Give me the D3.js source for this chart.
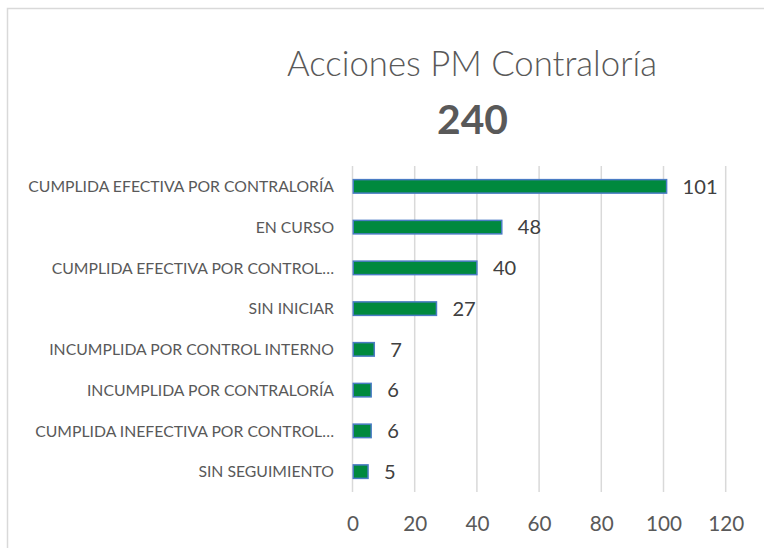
<!DOCTYPE html>
<html>
<head>
<meta charset="utf-8">
<script src="https://cdn.jsdelivr.net/npm/d3@7"></script>
<style>
  html, body { margin: 0; padding: 0; background: #fff; }
  svg { display: block; }
</style>
</head>
<body>
<script>
const categories = [
  "CUMPLIDA EFECTIVA POR CONTRALORÍA",
  "EN CURSO",
  "CUMPLIDA EFECTIVA POR CONTROL…",
  "SIN INICIAR",
  "INCUMPLIDA POR CONTROL INTERNO",
  "INCUMPLIDA POR CONTRALORÍA",
  "CUMPLIDA INEFECTIVA POR CONTROL…",
  "SIN SEGUIMIENTO"
];
const values = [101, 48, 40, 27, 7, 6, 6, 5];
const xTicks = [0, 20, 40, 60, 80, 100, 120];
const titleText = "Acciones PM Contraloría";
const totalText = "240";

const W = 764, H = 548;
const textColor = "#595959";
const fontFam = "Lato, 'Open Sans', sans-serif";

const svg = d3.select("body").append("svg").attr("width", W).attr("height", H);

// chart border
svg.append("rect")
  .attr("x", 7.5).attr("y", 8.5)
  .attr("width", W + 10).attr("height", H + 10)
  .attr("fill", "none").attr("stroke", "#d9d9d9").attr("stroke-width", 1.5);

const x = d3.scaleLinear().domain([0, 120]).range([352.5, 725.7]);
const y = d3.scaleBand().domain(categories).range([166, 492])
  .paddingInner(0.632).paddingOuter(0.316);

// helper: fit font size so that text reaches target width
function fitText(sel, target) {
  const w = sel.node().getComputedTextLength();
  const fs = parseFloat(sel.attr("font-size"));
  sel.attr("font-size", fs * target / w);
  return fs * target / w;
}

// Title
const t1 = svg.append("text")
  .attr("x", 472).attr("y", 76)
  .attr("text-anchor", "middle")
  .attr("font-family", fontFam).attr("font-weight", 300)
  .attr("font-size", 30).attr("fill", textColor)
  .text(titleText);
fitText(t1, 370);

const t2 = svg.append("text")
  .attr("x", 472.5).attr("y", 134)
  .attr("text-anchor", "middle")
  .attr("font-family", fontFam).attr("font-weight", 700)
  .attr("font-size", 40).attr("fill", textColor)
  .text(totalText);
fitText(t2, 71);

// gridlines
svg.append("g").selectAll("line").data(xTicks).join("line")
  .attr("x1", d => x(d)).attr("x2", d => x(d))
  .attr("y1", 166).attr("y2", 492)
  .attr("stroke", "#d9d9d9").attr("stroke-width", 1.5);

// x tick labels (via axis)
const xAxis = d3.axisBottom(x).tickValues(xTicks).tickSize(0).tickPadding(0);
const gx = svg.append("g").attr("transform", "translate(0,531)").call(xAxis);
gx.select(".domain").remove();
gx.selectAll("text")
  .attr("dy", 0).attr("y", 0)
  .attr("font-family", fontFam).attr("font-size", 20)
  .attr("fill", textColor);
{
  const last = gx.selectAll("text").filter(d => d === 120);
  const fs = fitText(last, 36);
  gx.selectAll("text").attr("font-size", fs);
}

// y axis labels (via axis)
const yAxis = d3.axisLeft(y).tickSize(0).tickPadding(0);
const gy = svg.append("g").attr("transform", "translate(334,0)").call(yAxis);
gy.select(".domain").remove();
gy.selectAll("text")
  .attr("dy", "0.36em")
  .attr("font-family", fontFam).attr("font-size", 14)
  .attr("fill", textColor);
{
  const longest = gy.selectAll("text").filter(d => d === categories[0]);
  const fs = fitText(longest, 306);
  gy.selectAll("text").attr("font-size", fs);
}

// bars
svg.append("g").selectAll("rect").data(values).join("rect")
  .attr("x", x(0) + 0.75)
  .attr("y", (d, i) => y(categories[i]) + 0.75)
  .attr("width", d => x(d) - x(0) - 0.75)
  .attr("height", y.bandwidth() - 1.5)
  .attr("fill", "#00893e")
  .attr("stroke", "#4a7cc4").attr("stroke-width", 1.5);

// value labels
const vl = svg.append("g").selectAll("text").data(values).join("text")
  .attr("x", d => x(d) + 16)
  .attr("y", (d, i) => y(categories[i]) + y.bandwidth() / 2)
  .attr("dy", "0.36em")
  .attr("font-family", fontFam).attr("font-size", 20)
  .attr("fill", "#404040")
  .text(d => d);
{
  const first = vl.filter(d => d === 101);
  const fs = fitText(first, 35);
  vl.attr("font-size", fs);
}
</script>
</body>
</html>
